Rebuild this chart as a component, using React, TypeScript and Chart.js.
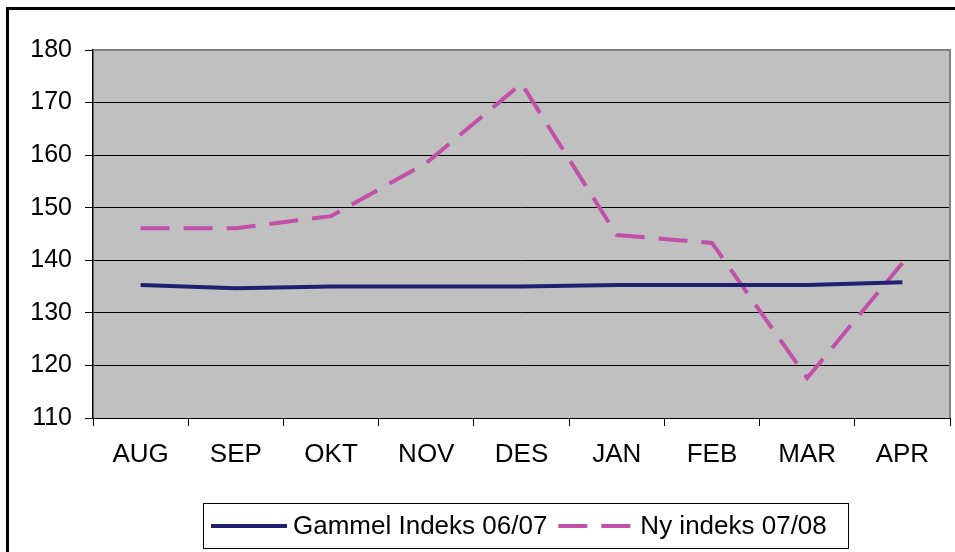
import React, { useEffect, useRef } from "react";
import { Chart, registerables } from "chart.js";

Chart.register(...registerables);

const months = ["AUG", "SEP", "OKT", "NOV", "DES", "JAN", "FEB", "MAR", "APR"];
const gammelIndeks = [135.3, 134.7, 135.0, 135.0, 135.0, 135.3, 135.3, 135.3, 135.8];
const nyIndeks = [146.1, 146.1, 148.4, 158.5, 173.6, 144.8, 143.3, 117.6, 139.5];
const seriesNames = ["Gammel Indeks 06/07", "Ny indeks 07/08"];
const yMin = 110;
const yMax = 180;
const yStep = 10;

const FONT = '"Liberation Sans", Arial, sans-serif';

export default function App() {
  const ref = useRef<HTMLCanvasElement>(null);

  useEffect(() => {
    if (!ref.current) return;

    const decor = {
      id: "decor",
      beforeDraw(chart: any) {
        const { ctx, chartArea } = chart;
        ctx.save();
        ctx.fillStyle = "#ffffff";
        ctx.fillRect(0, 0, chart.width, chart.height);
        ctx.fillStyle = "#000000";
        ctx.fillRect(6, 7, chart.width - 6, 3);
        ctx.fillRect(6, 7, 3, chart.height - 7);
        ctx.fillStyle = "#C0C0C0";
        ctx.fillRect(chartArea.left, chartArea.top, chartArea.right - chartArea.left, chartArea.bottom - chartArea.top);
        ctx.restore();
      },
      beforeDatasetsDraw(chart: any) {
        const { ctx, chartArea } = chart;
        ctx.save();
        ctx.strokeStyle = "#808080";
        ctx.lineWidth = 2;
        ctx.beginPath();
        ctx.moveTo(chartArea.left, chartArea.top);
        ctx.lineTo(chartArea.right, chartArea.top);
        ctx.lineTo(chartArea.right, chartArea.bottom);
        ctx.stroke();
        ctx.restore();
      },
      afterDraw(chart: any) {
        const { ctx } = chart;
        const ds = chart.data.datasets;
        ctx.save();
        const boxX = 203.5, boxY = 503.5, boxW = 645, boxH = 45;
        ctx.strokeStyle = "#000000";
        ctx.lineWidth = 1;
        ctx.strokeRect(boxX, boxY, boxW, boxH);
        ctx.font = `26px ${FONT}`;
        ctx.textBaseline = "middle";
        ctx.fillStyle = "#000000";
        const cy = boxY + boxH / 2;
        let x = 211;
        ds.forEach((d: any) => {
          ctx.save();
          ctx.strokeStyle = d.borderColor;
          ctx.lineWidth = d.borderWidth;
          ctx.setLineDash(d.borderDash || []);
          ctx.beginPath();
          ctx.moveTo(x, cy);
          ctx.lineTo(x + 76, cy);
          ctx.stroke();
          ctx.restore();
          x += 82;
          ctx.fillText(d.label, x, cy + 1);
          x += ctx.measureText(d.label).width + 11;
        });
        ctx.restore();
      },
    };

    const chart = new Chart(ref.current, {
      type: "line",
      data: {
        labels: months,
        datasets: [
          {
            label: seriesNames[0],
            data: gammelIndeks,
            borderColor: "#202070",
            borderWidth: 4,
            pointRadius: 0,
            tension: 0,
          },
          {
            label: seriesNames[1],
            data: nyIndeks,
            borderColor: "#C050A8",
            borderWidth: 4,
            borderDash: [29, 14],
            pointRadius: 0,
            tension: 0,
          },
        ],
      },
      options: {
        responsive: false,
        animation: false,
        layout: { padding: { top: 50, right: 5, left: 0, bottom: 0 } },
        plugins: {
          legend: { display: false },
          tooltip: { enabled: false },
        },
        scales: {
          x: {
            type: "category",
            offset: true,
            afterFit(scale: any) {
              scale.height = 134;
            },
            grid: {
              offset: true,
              drawOnChartArea: false,
              drawTicks: true,
              tickLength: 8,
              color: "#000000",
            },
            border: { color: "#000000", width: 1 },
            ticks: {
              color: "#000000",
              font: { family: FONT, size: 26 },
              padding: 13,
              maxRotation: 0,
              autoSkip: false,
            },
          },
          y: {
            min: yMin,
            max: yMax,
            afterFit(scale: any) {
              scale.width = 93;
            },
            grid: {
              color: (c: any) => (c.tick && c.tick.value === yMax ? "rgba(0,0,0,0)" : "#000000"),
              tickColor: "#000000",
              tickLength: 8,
              lineWidth: 1,
            },
            border: { color: "#000000", width: 1.5 },
            ticks: {
              stepSize: yStep,
              color: "#000000",
              font: { family: FONT, size: 25 },
              padding: 13,
            },
          },
        },
      },
      plugins: [decor],
    });

    return () => chart.destroy();
  }, []);

  return (
    <div style={{ position: "fixed", left: 0, top: 0, width: 955, height: 552 }}>
      <canvas ref={ref} width={955} height={552} style={{ display: "block" }} />
    </div>
  );
}
